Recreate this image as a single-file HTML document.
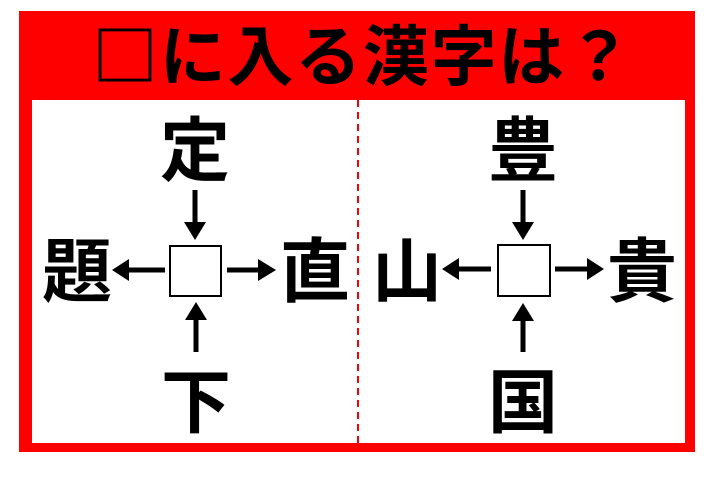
<!DOCTYPE html>
<html><head><meta charset="utf-8"><style>
html,body{margin:0;padding:0;background:#fff;}
svg{display:block}
text{font-family:"Noto Sans CJK JP",sans-serif;font-weight:bold;fill:#000}
</style></head><body>
<svg width="720" height="493" viewBox="0 0 720 493">
<rect x="19" y="11" width="676" height="441" fill="#ff0000"/>
<rect x="32" y="100" width="653" height="343" fill="#fff"/>
<line x1="358" y1="100" x2="358" y2="443" stroke="#ff0000" stroke-width="2" stroke-dasharray="7,5"/>
<text x="92" y="80" font-size="66" textLength="540" lengthAdjust="spacing">□に入る漢字は？</text>
<g font-size="70" text-anchor="middle">
<text x="195" y="175">定</text>
<text x="77" y="296">題</text>
<text x="315" y="296">直</text>
<text x="196" y="427">下</text>
<text x="523" y="175">豊</text>
<text x="407" y="296">山</text>
<text x="642" y="296">貴</text>
<text x="523" y="427">国</text>
</g>
<rect x="170" y="246" width="51" height="50" fill="#fff" stroke="#000" stroke-width="2"/>
<rect x="498" y="245" width="52" height="51" fill="#fff" stroke="#000" stroke-width="2"/>
<g stroke="#000" stroke-width="5">
<line x1="195" y1="190" x2="195" y2="226"/>
<line x1="165" y1="270" x2="125" y2="270"/>
<line x1="227" y1="270" x2="262" y2="270"/>
<line x1="196" y1="352" x2="196" y2="316"/>
<line x1="523" y1="190" x2="523" y2="226"/>
<line x1="491" y1="269" x2="455" y2="269"/>
<line x1="555" y1="269" x2="591" y2="269"/>
<line x1="523" y1="352" x2="523" y2="316"/>
</g>
<g fill="#000">
<polygon points="184,222 206,222 195,240"/>
<polygon points="129,259 129,281 112,270"/>
<polygon points="258,259 258,281 276,270"/>
<polygon points="185,320 207,320 196,302"/>
<polygon points="512,222 534,222 523,240"/>
<polygon points="459,258 459,280 442,269"/>
<polygon points="587,258 587,280 604,269"/>
<polygon points="512,321 534,321 523,303"/>
</g>
</svg>
</body></html>
